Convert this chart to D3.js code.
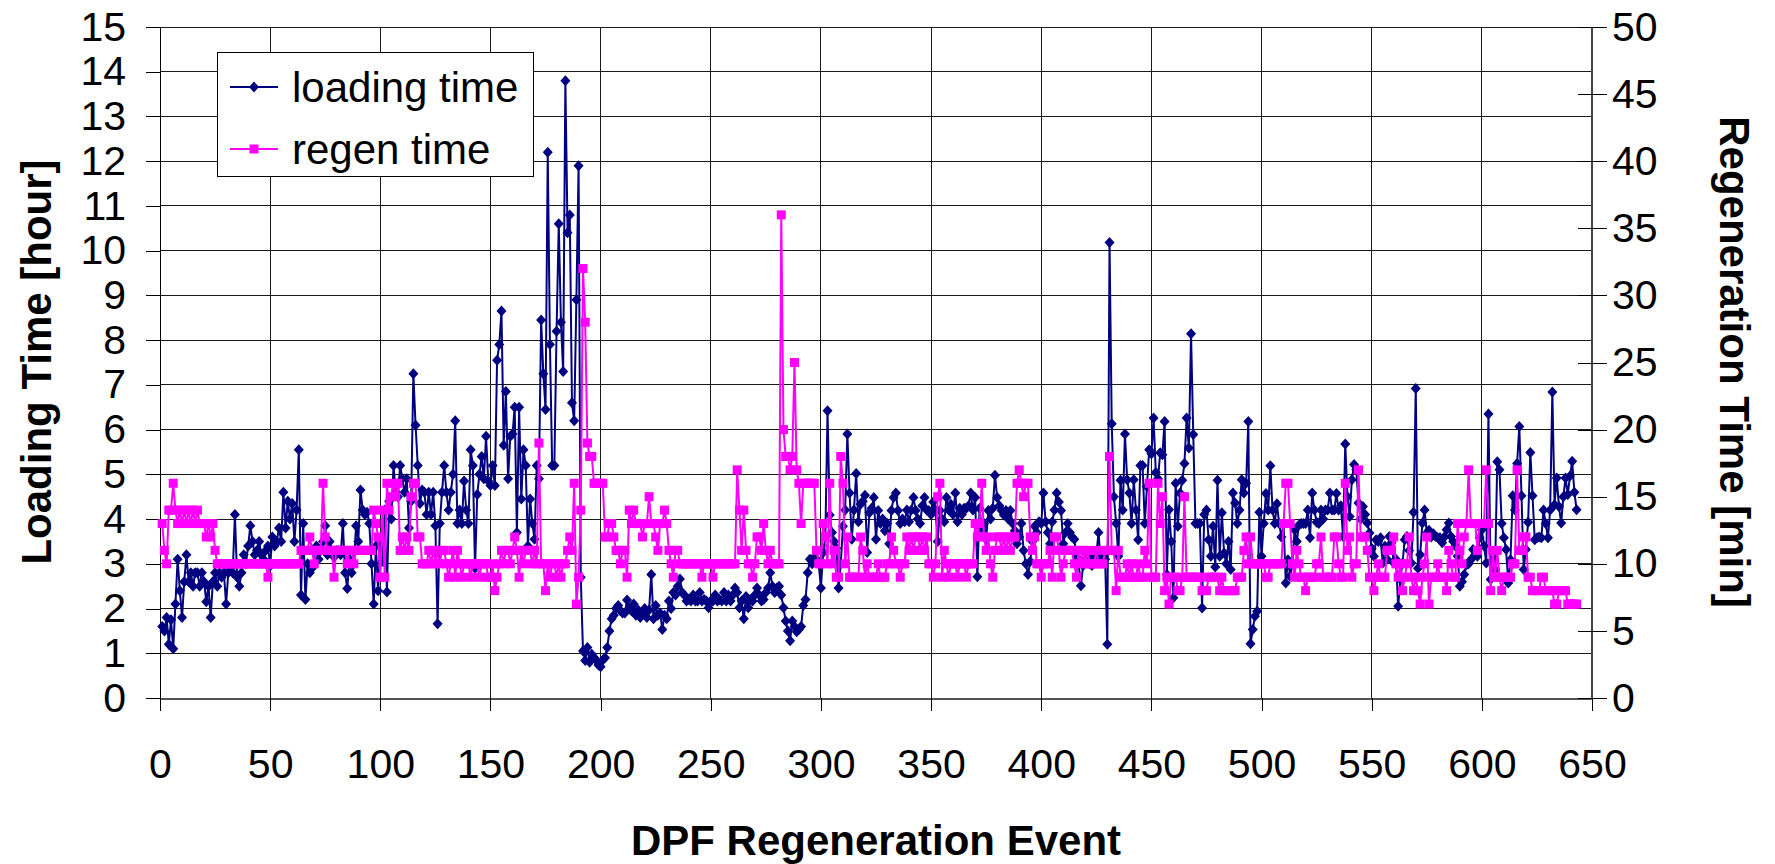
<!DOCTYPE html>
<html lang="en">
<head>
<meta charset="UTF-8">
<title>DPF Regeneration: loading time and regen time</title>
<script src="https://d3js.org/d3.v7.min.js"></script>
<style>
  body { margin: 0; background: #fff; }
  text { font-family: "Liberation Sans", Arial, sans-serif; fill: #000; }
</style>
</head>
<body>
<script>
// Loading time per regeneration event [hour], events 1..643
const loadingTime = [
  1.6, 1.5, 1.8, 1.2, 1.75, 1.1, 2.1, 3.1, 2.4, 1.8,
  2.6, 3.2, 2.6, 2.8, 2.5, 2.8, 2.8, 2.5, 2.8, 2.6,
  2.15, 2.5, 1.8, 2.6, 2.8, 2.5, 2.8, 2.7, 2.8, 2.1,
  2.8, 2.9, 2.8, 4.1, 2.7, 2.5, 2.8, 3.2, 3.0, 3.4,
  3.85, 3.5, 3.2, 3.3, 3.5, 3.2, 3.1, 3.3, 3.4, 2.95,
  3.6, 3.4, 3.5, 3.8, 3.5, 4.6, 3.8, 4.4, 4.0, 4.35,
  3.5, 4.2, 5.55, 2.3, 3.9, 2.2, 3.0, 2.8, 2.9, 3.0,
  3.4, 3.1, 3.3, 3.5, 3.85, 3.2, 3.5, 3.3, 3.15, 3.3,
  3.3, 3.2, 3.9, 2.8, 2.45, 3.1, 2.8, 3.0, 3.85, 3.5,
  4.65, 4.2, 4.1, 4.15, 3.9, 3.0, 2.1, 3.4, 2.4, 3.55,
  3.05, 4.2, 2.37, 4.4, 4.0, 5.2, 4.6, 4.5, 5.2, 4.9,
  4.6, 4.9, 3.8, 4.4, 7.25, 6.1, 5.2, 4.35, 4.65, 4.6,
  4.1, 4.6, 4.1, 4.6, 3.85, 1.66, 3.9, 4.6, 5.2, 4.6,
  4.2, 4.6, 5.0, 6.2, 3.9, 4.2, 3.9, 4.85, 4.2, 3.9,
  5.55, 5.2, 2.9, 4.55, 5.0, 5.4, 4.9, 5.85, 4.85, 4.75,
  5.2, 4.75, 7.55, 7.9, 8.65, 5.65, 6.85, 4.9, 5.85, 5.9,
  6.5, 3.7, 6.5, 4.45, 5.55, 5.2, 3.4, 4.45, 3.9, 3.55,
  5.2, 4.9, 8.45, 7.25, 6.45, 12.2, 7.9, 5.2, 5.2, 8.2,
  10.6, 8.4, 7.3, 13.8, 10.4, 10.8, 6.6, 6.2, 8.9, 11.9,
  2.7, 1.05, 0.84, 1.13, 0.8, 0.98, 0.9, 0.85, 0.74, 0.7,
  0.85, 0.9, 1.13, 1.5, 1.77, 1.85, 2.0, 2.07, 1.95, 1.9,
  1.9, 2.19, 2.0, 1.95, 2.1, 1.85, 1.97, 1.8, 1.9, 2.0,
  1.8, 1.97, 2.76, 1.77, 2.07, 1.85, 1.9, 1.53, 1.85, 1.77,
  2.17, 2.0, 2.36, 2.3, 2.5, 2.66, 2.36, 2.3, 2.17, 2.2,
  2.17, 2.3, 2.17, 2.17, 2.36, 2.17, 2.2, 2.17, 2.02, 2.17,
  2.17, 2.3, 2.17, 2.2, 2.17, 2.36, 2.17, 2.3, 2.17, 2.3,
  2.46, 2.36, 2.02, 2.17, 1.77, 2.27, 2.02, 2.2, 2.17, 2.3,
  2.46, 2.3, 2.17, 2.2, 2.36, 2.46, 2.8, 2.5, 2.36, 2.46,
  2.5, 2.3, 2.02, 1.72, 1.5, 1.28, 1.72, 1.6, 1.48, 1.53,
  1.6, 2.07, 2.2, 2.8, 3.1, 3.0, 3.15, 3.1, 3.0, 2.46,
  3.25, 3.6, 6.42, 4.09, 3.7, 3.5, 3.35, 2.46, 3.0, 3.84,
  4.2, 5.9, 4.58, 3.55, 4.2, 5.02, 3.94, 4.33, 4.4, 4.53,
  3.25, 4.14, 4.24, 4.48, 3.55, 4.19, 3.9, 4.0, 3.74, 3.9,
  3.45, 4.19, 4.48, 4.58, 4.19, 3.9, 4.0, 3.94, 4.2, 3.94,
  4.2, 4.48, 4.19, 4.0, 3.9, 4.3, 4.48, 4.2, 4.19, 4.1,
  4.38, 4.2, 3.5, 4.19, 4.0, 3.94, 4.48, 4.2, 4.33, 4.1,
  4.58, 3.94, 4.24, 4.1, 4.24, 4.24, 4.3, 4.58, 4.2, 4.48,
  2.71, 4.24, 3.8, 3.9, 3.55, 4.19, 4.0, 4.24, 4.98, 4.48,
  4.3, 4.19, 4.09, 4.19, 4.0, 4.19, 3.9, 3.74, 3.45, 3.6,
  3.9, 3.3, 3.0, 2.76, 3.05, 3.5, 3.84, 3.7, 3.94, 3.9,
  4.58, 3.94, 3.7, 3.45, 3.94, 4.2, 4.58, 4.38, 4.19, 3.45,
  3.7, 3.9, 3.7, 3.6, 3.55, 3.15, 3.0, 2.51, 2.96, 3.1,
  3.15, 3.0, 2.96, 3.15, 3.2, 3.7, 3.05, 3.2, 3.1, 1.2,
  10.18, 6.13, 4.5, 3.9, 3.17, 4.87, 4.2, 5.9, 4.88, 4.58,
  3.9, 4.88, 4.2, 3.54, 5.2, 5.2, 3.9, 4.73, 5.55, 5.46,
  6.26, 5.04, 4.9, 5.48, 5.44, 6.18, 2.76, 4.21, 3.5, 2.24,
  4.8, 3.84, 4.58, 4.87, 5.24, 6.26, 5.59, 8.14, 5.89, 3.9,
  3.9, 3.9, 2.01, 4.1, 4.2, 3.54, 3.17, 3.84, 2.93, 4.87,
  3.17, 4.14, 3.24, 3.0, 3.5, 2.87, 4.58, 4.36, 3.9, 4.2,
  4.88, 4.58, 4.8, 6.18, 1.21, 1.53, 1.83, 1.94, 4.15, 3.17,
  3.9, 4.57, 4.2, 5.19, 4.2, 3.9, 4.34, 3.9, 3.6, 3.9,
  2.57, 3.09, 2.72, 3.02, 3.76, 3.5, 3.87, 3.9, 3.9, 3.9,
  4.2, 3.58, 4.58, 4.2, 3.93, 3.9, 4.2, 4.0, 4.2, 4.2,
  4.58, 4.2, 4.2, 4.57, 4.2, 4.3, 3.61, 5.68, 4.5, 4.06,
  4.88, 5.22, 5.1, 4.36, 4.0, 4.28, 4.1, 3.91, 3.69, 3.35,
  3.17, 3.54, 3.5, 3.58, 3.02, 3.39, 3.1, 3.61, 3.47, 3.02,
  3.1, 2.05, 2.65, 3.02, 3.54, 3.61, 3.3, 3.02, 4.15, 6.92,
  2.9, 3.2, 3.91, 4.2, 3.69, 3.75, 3.6, 3.67, 3.61, 3.58,
  3.58, 3.47, 3.6, 3.76, 3.91, 3.61, 3.5, 3.39, 3.17, 2.5,
  2.6, 2.76, 2.98, 3.0, 3.09, 3.32, 3.2, 3.17, 3.58, 3.76,
  3.4, 3.02, 6.35, 2.65, 3.09, 2.87, 5.28, 5.1, 3.9, 3.58,
  3.32, 2.57, 3.09, 4.52, 4.2, 5.24, 6.07, 4.52, 2.87, 3.32,
  3.93, 5.49, 4.52, 3.54, 3.58, 3.6, 3.58, 4.2, 3.9, 3.58,
  4.2, 6.84, 4.32, 4.92, 4.28, 3.91, 4.5, 4.92, 4.55, 4.96,
  5.29, 4.6, 4.21
];

// Regeneration time per event [min], events 1..643
const regenTime = [
  13, 11, 10, 14, 14, 16, 14, 13, 14, 13,
  14, 13, 14, 13, 14, 13, 14, 13, 13, 13,
  12, 13, 12, 13, 11, 10, 10, 10, 10, 10,
  10, 10, 10, 10, 10, 10, 10, 10, 10, 10,
  10, 10, 10, 10, 10, 10, 10, 10, 9, 10,
  10, 10, 10, 10, 10, 10, 10, 10, 10, 10,
  10, 10, 10, 11, 11, 11, 11, 12, 11, 10,
  11, 11, 11, 16, 12, 11, 11, 11, 9, 11,
  11, 11, 11, 11, 10, 11, 11, 10, 11, 11,
  11, 11, 11, 11, 11, 11, 14, 13, 12, 9,
  14, 9, 16, 14, 15, 16, 15, 16, 11, 12,
  11, 12, 11, 15, 16, 16, 12, 12, 10, 10,
  10, 11, 10, 11, 10, 11, 10, 11, 11, 10,
  9, 10, 11, 9, 11, 10, 9, 10, 10, 10,
  9, 10, 10, 10, 9, 10, 10, 10, 9, 9,
  10, 8, 9, 10, 11, 10, 11, 11, 10, 11,
  12, 11, 9, 11, 10, 11, 11, 11, 10, 11,
  10, 19, 10, 10, 8, 10, 9, 10, 10, 9,
  10, 9, 10, 10, 11, 12, 11, 16, 7, 9,
  14, 32, 28, 19, 18, 18, 16, 16, 16, 16,
  16, 12, 12, 13, 13, 12, 11, 11, 10, 11,
  11, 9, 14, 13, 14, 13, 13, 13, 12, 13,
  13, 15, 13, 13, 12, 11, 13, 13, 14, 13,
  11, 10, 9, 11, 11, 10, 10, 10, 10, 10,
  10, 10, 10, 10, 10, 9, 10, 10, 10, 10,
  9, 10, 10, 10, 10, 10, 10, 10, 10, 10,
  10, 17, 14, 11, 14, 11, 10, 10, 9, 10,
  12, 12, 11, 13, 11, 10, 11, 10, 10, 10,
  10, 36, 20, 18, 18, 17, 18, 25, 17, 16,
  13, 16, 16, 16, 16, 16, 16, 11, 10, 10,
  13, 12, 10, 16, 10, 11, 9, 9, 18, 16,
  10, 12, 9, 9, 9, 9, 9, 12, 11, 9,
  10, 9, 9, 9, 9, 10, 9, 9, 9, 10,
  10, 12, 11, 10, 10, 9, 10, 10, 12, 11,
  12, 11, 12, 12, 11, 12, 11, 12, 10, 10,
  9, 10, 15, 16, 9, 11, 10, 9, 10, 10,
  10, 9, 10, 10, 10, 9, 10, 10, 10, 13,
  12, 13, 16, 12, 11, 12, 10, 9, 11, 12,
  12, 11, 12, 11, 12, 11, 12, 12, 16, 17,
  16, 15, 16, 16, 12, 11, 12, 10, 10, 9,
  10, 10, 10, 11, 9, 12, 12, 11, 9, 10,
  11, 11, 11, 11, 10, 9, 11, 10, 11, 10,
  11, 10, 10, 10, 11, 10, 10, 10, 11, 11,
  18, 11, 11, 8, 11, 9, 9, 9, 10, 9,
  10, 9, 9, 10, 9, 9, 11, 10, 16, 9,
  9, 9, 16, 13, 15, 8, 9, 7, 9, 9,
  9, 8, 8, 9, 15, 9, 9, 9, 9, 9,
  9, 9, 8, 8, 8, 9, 9, 9, 9, 9,
  8, 9, 8, 8, 8, 8, 8, 8, 9, 9,
  9, 11, 12, 10, 12, 10, 10, 10, 10, 10,
  10, 9, 9, 10, 10, 10, 10, 10, 10, 13,
  16, 16, 13, 10, 9, 11, 10, 9, 9, 8,
  9, 9, 9, 9, 10, 10, 12, 9, 9, 9,
  9, 9, 12, 12, 10, 9, 9, 16, 11, 12,
  9, 10, 10, 17, 12, 12, 12, 11, 9, 9,
  8, 9, 10, 9, 9, 9, 11, 11, 11, 12,
  10, 9, 10, 8, 9, 10, 12, 9, 8, 9,
  8, 7, 9, 10, 12, 7, 9, 9, 9, 10,
  9, 9, 9, 8, 11, 10, 9, 9, 13, 11,
  10, 12, 13, 17, 13, 13, 13, 11, 13, 13,
  13, 17, 13, 8, 11, 9, 11, 9, 8, 9,
  9, 9, 9, 10, 10, 17, 11, 11, 12, 12,
  9, 9, 8, 8, 8, 8, 9, 9, 8, 8,
  8, 8, 7, 7, 8, 8, 8, 8, 7, 7,
  7, 7, 7
];

const xTicks = [0, 50, 100, 150, 200, 250, 300, 350, 400, 450, 500, 550, 600, 650];
const leftTicks = [0, 1, 2, 3, 4, 5, 6, 7, 8, 9, 10, 11, 12, 13, 14, 15];
const rightTicks = [0, 5, 10, 15, 20, 25, 30, 35, 40, 45, 50];
const seriesNames = ["loading time", "regen time"];

const W = 1775, H = 864;
const plot = { left: 160, top: 27, right: 1592, bottom: 698 };
const navy = "#000080", magenta = "#ff00ff";

const svg = d3.select("body").append("svg")
  .attr("width", W).attr("height", H)
  .style("display", "block");

svg.append("rect").attr("width", W).attr("height", H).attr("fill", "#fff");

const x = d3.scaleLinear().domain([0, 650]).range([plot.left, plot.right]);
const yL = d3.scaleLinear().domain([0, 15]).range([plot.bottom, plot.top]);
const yR = d3.scaleLinear().domain([0, 50]).range([plot.bottom, plot.top]);

// grid
const grid = svg.append("g").attr("shape-rendering", "crispEdges");
grid.selectAll(".hg").data(leftTicks.slice(1)).join("line")
  .attr("x1", plot.left).attr("x2", plot.right)
  .attr("y1", d => yL(d)).attr("y2", d => yL(d))
  .attr("stroke", "#1a1a1a").attr("stroke-width", 1);
grid.selectAll(".vg").data(xTicks.slice(1, -1)).join("line")
  .attr("x1", d => x(d)).attr("x2", d => x(d))
  .attr("y1", plot.top).attr("y2", plot.bottom)
  .attr("stroke", "#1a1a1a").attr("stroke-width", 1);
grid.append("line")
  .attr("x1", plot.right).attr("x2", plot.right)
  .attr("y1", plot.top).attr("y2", plot.bottom)
  .attr("stroke", "#444").attr("stroke-width", 2);

const fontSize = 41;

// left axis
svg.append("g")
  .attr("transform", `translate(${plot.left},0)`)
  .call(d3.axisLeft(yL).tickValues(leftTicks).tickSizeInner(14).tickSizeOuter(0).tickPadding(20))
  .call(g => g.select(".domain").attr("stroke", "#000").attr("shape-rendering", "crispEdges"))
  .call(g => g.selectAll(".tick line").attr("stroke", "#000").attr("shape-rendering", "crispEdges"))
  .call(g => g.selectAll("text").attr("font-size", fontSize).attr("font-family", null));

// bottom axis
svg.append("g")
  .attr("transform", `translate(0,${plot.bottom})`)
  .call(d3.axisBottom(x).tickValues(xTicks).tickSizeInner(13).tickSizeOuter(0).tickPadding(38))
  .call(g => g.select(".domain").attr("stroke", "#555").attr("stroke-width", 2).attr("shape-rendering", "crispEdges"))
  .call(g => g.selectAll(".tick line").attr("stroke", "#000").attr("shape-rendering", "crispEdges"))
  .call(g => g.selectAll("text").attr("font-size", fontSize).attr("font-family", null));

// right axis, ticks crossing the axis line
svg.append("g")
  .attr("transform", `translate(${plot.right},0)`)
  .call(d3.axisRight(yR).tickValues(rightTicks).tickSizeInner(15).tickSizeOuter(0).tickPadding(5))
  .call(g => g.select(".domain").remove())
  .call(g => g.selectAll(".tick line").attr("x1", -14).attr("stroke", "#000").attr("shape-rendering", "crispEdges"))
  .call(g => g.selectAll("text").attr("font-size", fontSize).attr("font-family", null));

// axis titles
svg.append("text")
  .attr("transform", "translate(36,362) rotate(-90)")
  .attr("text-anchor", "middle").attr("dy", "0.35em")
  .attr("font-size", 42).attr("font-weight", "bold")
  .text("Loading Time [hour]");

svg.append("text")
  .attr("transform", "translate(1735,362) rotate(90)")
  .attr("text-anchor", "middle").attr("dy", "0.35em")
  .attr("font-size", 42).attr("font-weight", "bold")
  .text("Regeneration Time [min]");

svg.append("text")
  .attr("x", 876).attr("y", 855)
  .attr("text-anchor", "middle")
  .attr("font-size", 42).attr("font-weight", "bold")
  .text("DPF Regeneration Event");

// series
const diamond = "M0,-5.5L5,0L0,5.5L-5,0Z";
const square = "M-4.5,-4.5H4.5V4.5H-4.5Z";

const loadPts = loadingTime.map((v, i) => [i + 1, v]);
const regenPts = regenTime.map((v, i) => [i + 1, v]);

const gL = svg.append("g");
gL.append("path").datum(loadPts)
  .attr("fill", "none").attr("stroke", navy).attr("stroke-width", 2)
  .attr("stroke-linejoin", "round")
  .attr("d", d3.line().x(d => x(d[0])).y(d => yL(d[1])));
gL.selectAll("path.m").data(loadPts).join("path").attr("class", "m")
  .attr("d", diamond).attr("fill", navy)
  .attr("transform", d => `translate(${x(d[0])},${yL(d[1])})`);

const gR = svg.append("g");
gR.append("path").datum(regenPts)
  .attr("fill", "none").attr("stroke", magenta).attr("stroke-width", 2)
  .attr("stroke-linejoin", "round")
  .attr("d", d3.line().x(d => x(d[0])).y(d => yR(d[1])));
gR.selectAll("path.m").data(regenPts).join("path").attr("class", "m")
  .attr("d", square).attr("fill", magenta)
  .attr("transform", d => `translate(${x(d[0])},${yR(d[1])})`);

// legend
const lg = svg.append("g").attr("transform", "translate(217,52)");
lg.append("rect").attr("width", 316).attr("height", 124)
  .attr("fill", "#fff").attr("stroke", "#000").attr("stroke-width", 1)
  .attr("shape-rendering", "crispEdges");
const rows = [
  { name: seriesNames[0], color: navy, shape: diamond, y: 35 },
  { name: seriesNames[1], color: magenta, shape: square, y: 97 }
];
const row = lg.selectAll("g.row").data(rows).join("g").attr("class", "row")
  .attr("transform", d => `translate(0,${d.y})`);
row.append("line").attr("x1", 13).attr("x2", 61)
  .attr("stroke", d => d.color).attr("stroke-width", 2);
row.append("path").attr("d", d => d.shape).attr("fill", d => d.color)
  .attr("transform", "translate(37,0)");
row.append("text").attr("x", 75).attr("dy", "0.35em")
  .attr("font-size", 42).text(d => d.name);
</script>
</body>
</html>
